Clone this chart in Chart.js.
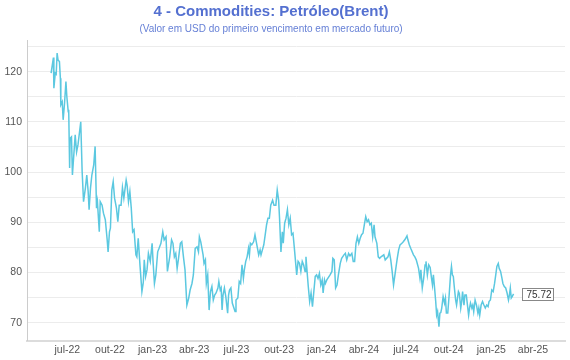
<!DOCTYPE html>
<html><head><meta charset="utf-8">
<script src="https://cdn.jsdelivr.net/npm/chart.js@4"></script>
<style>html,body{margin:0;padding:0;background:#fff}#wrap{width:570px;height:360px;position:relative}</style>
</head><body><div id="wrap"><canvas id="c"></canvas></div>
<script>
const TITLE = '4 - Commodities: Petróleo(Brent)';
const SUBTITLE = '(Valor em USD do primeiro vencimento em mercado futuro)';
// x values: days counted from 2022-07-01
const days = [-35,-30,-29,-26,-24,-22,-20,-17,-15,-14,-11,-9,-6,-3,-1,2,3,5,6,9,11,14,17,20,23,29,32,35,39,42,45,47,50,53,57,60,63,65,69,71,75,78,82,86,88,91,93,96,99,102,106,109,112,116,119,122,127,129,132,135,138,141,144,148,150,153,157,161,164,166,169,172,175,179,183,185,188,191,195,198,202,206,209,213,216,221,225,228,231,234,237,240,244,247,251,254,258,262,265,269,272,276,280,283,285,288,293,295,298,300,303,306,309,312,315,318,321,325,327,330,332,334,336,339,342,346,348,350,353,356,362,364,368,371,374,377,380,382,385,388,391,393,395,398,402,405,407,413,416,418,421,424,427,430,433,436,439,443,446,450,453,456,458,461,464,466,469,472,475,478,481,484,487,490,495,498,501,504,507,510,513,515,518,520,523,526,529,532,535,538,541,544,547,550,552,555,557,560,567,571,573,576,579,582,585,589,592,597,600,603,607,610,614,617,620,623,626,629,632,635,638,641,644,647,650,653,656,659,662,664,668,671,674,677,683,686,692,695,698,701,704,707,710,712,715,718,722,725,729,733,735,738,741,747,750,753,758,761,763,766,769,772,774,777,780,783,786,788,790,792,795,797,799,802,804,806,808,811,814,816,818,821,824,827,829,831,833,835,838,840,842,844,846,849,851,853,856,858,861,863,866,868,870,873,875,877,880,883,886,888,890,893,896,899,902,905,908,910,913,916,919,922,925,927,930,932,935,938,940,943,946,949,952,954,956,958,960,963];
const prices = [119.7,122.8,116.7,119.7,119.5,123.7,122.3,122,118.7,113.4,114,110.4,113.7,118,115,112,112.4,100.8,106.7,107,99.4,103.4,107.4,104,105.4,110,100.1,94.1,96.8,99.4,96.1,92.5,96.8,99.4,101.4,105.1,92.8,94.1,88.1,94.1,93.4,91.8,90.5,86.5,84.1,88.1,88.8,96.4,98.1,94.8,92.8,90.1,93.4,93.4,96.9,94.8,98.4,97.4,94.1,96.1,92.8,88.1,88.5,83.5,83.1,86.8,81.2,76.2,78,82.5,79.2,80.5,83.8,82.2,85.8,82.2,77.8,79.5,84.1,84.8,85.8,88.1,86.5,87.1,80.2,83.1,86.5,85.8,83.1,83.8,80.8,82.8,85.8,86.1,82.8,80.5,73.5,74.9,76.5,77.8,79.5,84.8,85.1,84.1,87.1,86.1,83.5,81.8,82.5,77.8,79.5,72.5,76.2,77.2,74.5,75.5,75.9,76.9,78.2,76.5,76.9,72.5,75.5,76.9,75.2,71.9,75.5,76.5,76.9,73.9,72.2,74.5,74.9,78.2,77.8,81.5,78.8,80.5,82.2,83.1,84.8,83.5,85.8,85.5,86.1,87.5,86.5,83.5,84.5,83.5,84.5,85.5,87.5,89.5,90.8,90.8,93.4,94.4,93.4,93.4,96.4,94.4,90.8,84.1,88.1,85.8,89.8,90.8,92.5,89.5,90.8,87.5,87.8,84.8,79.5,82.2,81.8,80.2,82.2,81.5,80.2,83.1,79.5,77.2,74.2,75.9,73.2,76.2,79.2,79.5,78.8,79.8,77.5,78.5,75.9,78.5,77.8,78.5,79.5,80.2,82.8,82.5,76.9,77.5,79.5,81.8,82.8,83.5,83.8,82.5,83.8,83.3,83.8,82.2,82.2,85.8,87.1,85.8,86.8,87.5,87.8,89.5,91.1,90.1,90.5,89.5,89.8,87.1,89.5,87.1,85.8,83.1,82.8,83.1,83.5,82.5,83.1,84.1,82.5,80.2,77.5,79.5,81.5,82.8,84.5,85.5,85.8,86.1,86.6,87.3,86.5,85.5,84.8,83.5,83.1,82.5,80.8,78.8,80.5,76.9,78.8,81.5,82.2,79.5,81.5,81,78.8,77.5,79.5,77.5,74.2,71.5,72.2,69.2,71.9,72,72.9,75.2,73.9,74.9,71.9,71.9,75.5,79.5,81.2,79.5,79.2,77.2,74.5,73.5,74.9,76.2,75.8,72.9,74.2,76.2,73.5,75.5,75.5,73.9,71.5,72.9,73.9,72.9,73.5,72.2,74.5,73.5,71.9,72.9,71.5,73.5,74.2,73.5,72.9,73.5,73.2,74.2,74.5,76.5,76.2,77.8,79.8,81.2,81.8,80.8,80.2,78.8,77.8,77.2,76.9,75.9,74.5,75.5,76.9,74.9,75.2,75.72];
const tickDays = [0,92,184,274,365,457,549,640,731,823,915,1005];
const tickLabels = ['jul-22','out-22','jan-23','abr-23','jul-23','out-23','jan-24','abr-24','jul-24','out-24','jan-25','abr-25'];
const yTicks = [70,75,80,85,90,95,100,105,110,115,120,125];
const yLabeled = [70,80,90,100,110,120];

const FONT = '"Liberation Sans", Arial, Helvetica, sans-serif';

const titlePlugin = {
  id: 'titles',
  afterDraw(chart) {
    const ctx = chart.ctx;
    ctx.save();
    ctx.textAlign = 'center';
    ctx.textBaseline = 'middle';
    ctx.fillStyle = '#5470d0';
    ctx.font = 'bold 15px ' + FONT;
    ctx.fillText(TITLE, 271, 12);
    ctx.fillStyle = '#6680d6';
    ctx.font = '10px ' + FONT;
    ctx.fillText(SUBTITLE, 271, 29);
    ctx.restore();
  }
};

const lastLabel = {
  id: 'lastLabel',
  afterDatasetsDraw(chart) {
    const meta = chart.getDatasetMeta(0);
    const i = prices.length - 1;
    const pt = meta.data[i];
    if (!pt) return;
    const ctx = chart.ctx;
    const txt = prices[i].toFixed(2);
    ctx.save();
    ctx.font = '10px ' + FONT;
    const w = 31, h = 12;
    const x0 = Math.round(pt.x + 8) + 0.5, y0 = Math.round(pt.y - h / 2) + 0.5;
    ctx.fillStyle = '#fff';
    ctx.fillRect(x0, y0, w, h);
    ctx.strokeStyle = '#888';
    ctx.lineWidth = 1;
    ctx.strokeRect(x0, y0, w, h);
    ctx.fillStyle = '#333';
    ctx.textAlign = 'right';
    ctx.textBaseline = 'middle';
    ctx.fillText(txt, x0 + w - 2, y0 + h / 2 + 0.5);
    ctx.restore();
  }
};

new Chart(document.getElementById('c'), {
  type: 'line',
  data: {
    datasets: [{
      data: days.map((d, i) => ({ x: d, y: prices[i] })),
      borderColor: '#5bc8e0',
      borderWidth: 1.5,
      pointRadius: 0,
      tension: 0,
      fill: false
    }]
  },
  options: {
    responsive: true,
    maintainAspectRatio: false,
    animation: false,
    layout: { padding: { top: 40, right: 5, left: 0, bottom: 0 } },
    plugins: { legend: { display: false }, tooltip: { enabled: false }, title: { display: false } },
    scales: {
      x: {
        type: 'linear',
        min: -87,
        max: 1074,
        afterBuildTicks: s => { s.ticks = tickDays.map(v => ({ value: v })); },
        afterFit: s => { s.height = 19.3; },
        ticks: {
          autoSkip: false, maxRotation: 0, padding: 3,
          color: '#555', font: { family: FONT, size: 10.5 },
          callback: v => { const k = tickDays.indexOf(v); return k >= 0 ? tickLabels[k] : ''; }
        },
        grid: { display: false, drawTicks: false },
        border: { display: true, color: '#dcdcdc', width: 2 }
      },
      y: {
        type: 'linear',
        min: 66.4,
        max: 126.3,
        afterBuildTicks: s => { s.ticks = yTicks.map(v => ({ value: v })); },
        afterFit: s => { s.width = 27; },
        ticks: {
          padding: 5, color: '#555', font: { family: FONT, size: 10.5 },
          callback: v => yLabeled.includes(v) ? String(v) : ''
        },
        grid: { color: '#ececec', lineWidth: 1, drawTicks: false },
        border: { display: true, color: '#cccccc', width: 1 }
      }
    }
  },
  plugins: [titlePlugin, lastLabel]
});
</script>
</body></html>
